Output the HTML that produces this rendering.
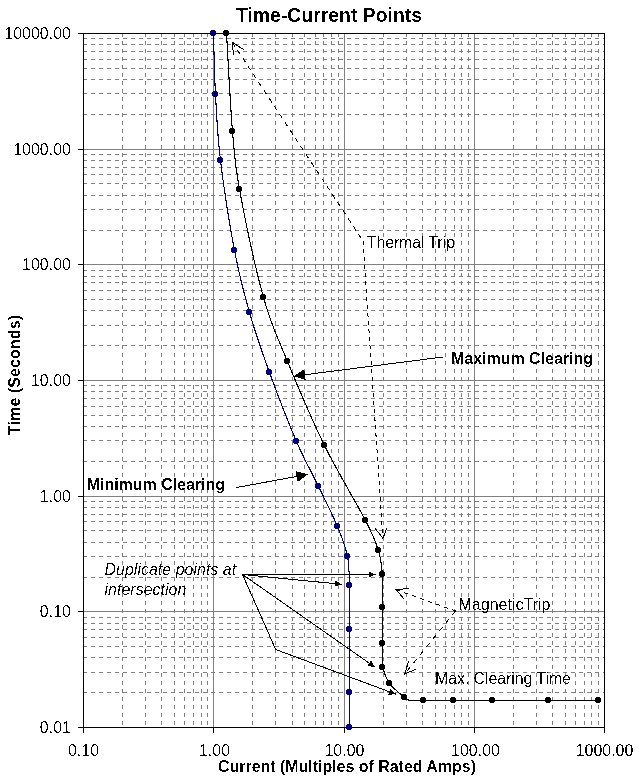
<!DOCTYPE html>
<html lang="en"><head><meta charset="utf-8"><title>Time-Current Points</title>
<style>html,body{margin:0;padding:0;background:#fff}svg{display:block}text{font-family:"Liberation Sans",Arial,sans-serif;fill:#000}</style></head><body>
<svg width="641" height="781" viewBox="0 0 641 781">
<rect width="641" height="781" fill="#fff"/>
<g shape-rendering="crispEdges" stroke="#808080" stroke-width="1" fill="none">
<path stroke-dasharray="4 4" d="M122.5 33V727M145.5 33V727M161.5 33V727M174.5 33V727M184.5 33V727M193.5 33V727M201.5 33V727M207.5 33V727M252.5 33V727M275.5 33V727M292.5 33V727M304.5 33V727M315.5 33V727M323.5 33V727M331.5 33V727M338.5 33V727M383.5 33V727M406.5 33V727M422.5 33V727M435.5 33V727M445.5 33V727M454.5 33V727M461.5 33V727M468.5 33V727M513.5 33V727M536.5 33V727M552.5 33V727M565.5 33V727M575.5 33V727M584.5 33V727M591.5 33V727M598.5 33V727"/>
<path stroke-dasharray="4 4" d="M83 114.5H604M83 93.5H604M83 79.5H604M83 68.5H604M83 59.5H604M83 51.5H604M83 44.5H604M83 38.5H604M83 230.5H604M83 209.5H604M83 195.5H604M83 183.5H604M83 174.5H604M83 167.5H604M83 160.5H604M83 154.5H604M83 345.5H604M83 325.5H604M83 310.5H604M83 299.5H604M83 290.5H604M83 282.5H604M83 276.5H604M83 270.5H604M83 461.5H604M83 440.5H604M83 426.5H604M83 415.5H604M83 406.5H604M83 398.5H604M83 391.5H604M83 385.5H604M83 577.5H604M83 556.5H604M83 542.5H604M83 530.5H604M83 521.5H604M83 514.5H604M83 507.5H604M83 501.5H604M83 692.5H604M83 672.5H604M83 657.5H604M83 646.5H604M83 637.5H604M83 629.5H604M83 623.5H604M83 617.5H604"/>
<path d="M213.5 33V727M344.5 33V727M474.5 33V727M83 149.5H604M83 264.5H604M83 380.5H604M83 496.5H604M83 611.5H604"/>
</g>
<path shape-rendering="crispEdges" stroke="#000" stroke-width="1" fill="none" d="M83.5 33.5H604.5V727.5H83.5ZM78 33.5H84M78 149.5H84M78 264.5H84M78 380.5H84M78 496.5H84M78 611.5H84M78 727.5H84M83.5 727V733M213.5 727V733M344.5 727V733M474.5 727V733M604.5 727V733"/>
<g shape-rendering="crispEdges"><path d="M213.5 33.5C213.83 43.67 214.33 73.33 215.5 94.5C216.67 115.67 217.33 134.50 220.5 160.5C223.67 186.50 229.67 225.17 234.5 250.5C239.33 275.83 243.67 292.17 249.5 312.5C255.33 332.83 261.67 351.00 269.5 372.5C277.33 394.00 288.33 422.50 296.5 441.5C304.67 460.50 311.67 472.33 318.5 486.5C325.33 500.67 332.67 514.83 337.5 526.5C342.33 538.17 345.50 546.67 347.5 556.5C349.50 566.33 349.17 580.67 349.5 585.5C349.50 592.83 349.50 611.67 349.5 629.5C349.50 647.33 349.50 676.17 349.5 692.5C349.50 708.83 349.50 721.67 349.5 727.5" fill="none" stroke="#000080" stroke-width="1.1"/><circle cx="213" cy="33" r="3" fill="#000080"/><circle cx="215" cy="94" r="3" fill="#000080"/><circle cx="220" cy="160" r="3" fill="#000080"/><circle cx="234" cy="250" r="3" fill="#000080"/><circle cx="249" cy="312" r="3" fill="#000080"/><circle cx="269" cy="372" r="3" fill="#000080"/><circle cx="296" cy="441" r="3" fill="#000080"/><circle cx="318" cy="486" r="3" fill="#000080"/><circle cx="337" cy="526" r="3" fill="#000080"/><circle cx="347" cy="556" r="3" fill="#000080"/><circle cx="349" cy="585" r="3" fill="#000080"/><circle cx="349" cy="629" r="3" fill="#000080"/><circle cx="349" cy="692" r="3" fill="#000080"/><circle cx="349" cy="727" r="3" fill="#000080"/></g>
<g shape-rendering="crispEdges"><path d="M226.5 33.5C227.50 49.83 230.33 105.50 232.5 131.5C234.67 157.50 234.33 161.83 239.5 189.5C244.67 217.17 255.50 268.83 263.5 297.5C271.50 326.17 277.33 336.83 287.5 361.5C297.67 386.17 311.50 419.00 324.5 445.5C337.50 472.00 356.50 503.00 365.5 520.5C372.98 535.04 375.67 541.50 378.5 550.5C381.33 559.50 381.83 570.50 382.5 574.5C382.50 580.00 382.50 596.00 382.5 607.5C382.50 619.00 382.50 633.50 382.5 643.5C382.50 653.50 382.50 663.50 382.5 667.5C383.67 670.17 385.83 678.50 389.5 683.5C393.17 688.50 402.00 695.17 404.5 697.5C405.17 697.92 407.17 699.50 408.5 700.0C409.83 700.50 410.49 700.43 412.5 700.5C415.00 700.58 418.00 700.50 423.5 700.5C430.33 700.50 442.00 700.50 453.5 700.5C465.00 700.50 476.67 700.50 492.5 700.5C508.33 700.50 530.83 700.50 548.5 700.5C566.17 700.50 590.17 700.50 598.5 700.5" fill="none" stroke="#000" stroke-width="1.1"/><circle cx="226" cy="33" r="3" fill="#000"/><circle cx="232" cy="131" r="3" fill="#000"/><circle cx="239" cy="189" r="3" fill="#000"/><circle cx="263" cy="297" r="3" fill="#000"/><circle cx="287" cy="361" r="3" fill="#000"/><circle cx="324" cy="445" r="3" fill="#000"/><circle cx="365" cy="520" r="3" fill="#000"/><circle cx="378" cy="550" r="3" fill="#000"/><circle cx="382" cy="574" r="3" fill="#000"/><circle cx="382" cy="607" r="3" fill="#000"/><circle cx="382" cy="643" r="3" fill="#000"/><circle cx="382" cy="667" r="3" fill="#000"/><circle cx="389" cy="683" r="3" fill="#000"/><circle cx="404" cy="697" r="3" fill="#000"/><circle cx="423" cy="700" r="3" fill="#000"/><circle cx="453" cy="700" r="3" fill="#000"/><circle cx="492" cy="700" r="3" fill="#000"/><circle cx="548" cy="700" r="3" fill="#000"/><circle cx="598" cy="700" r="3" fill="#000"/></g>
<g shape-rendering="crispEdges"><path d="M443 357L293.6 376.2" fill="none" stroke="#000" stroke-width="1"/><path d="M293.6 376.2L304.3 369.3L305.7 380.2Z" fill="#000"/><path d="M236 487.6L308 474.4" fill="none" stroke="#000" stroke-width="1"/><path d="M308.0 474.4L297.7 481.9L295.7 471.1Z" fill="#000"/><path d="M242.5 574.5L375.6 574.5" fill="none" stroke="#000" stroke-width="1"/><path d="M375.6 574.5L368.6 577.7L368.6 571.3Z" fill="#000"/><path d="M242.5 574.5L341.8 584.3" fill="none" stroke="#000" stroke-width="1"/><path d="M341.8 584.3L334.5 586.8L335.1 580.4Z" fill="#000"/><path d="M242.5 574.5L375 667.2" fill="none" stroke="#000" stroke-width="1"/><path d="M375.0 667.2L367.4 665.8L371.1 660.6Z" fill="#000"/><path d="M242.5 574.5L275.7 649.5L396 694.2" fill="none" stroke="#000" stroke-width="1"/><path d="M396.0 694.2L388.3 694.8L390.6 688.8Z" fill="#000"/><path d="M232.3 42.3L363 241" fill="none" stroke="#000" stroke-width="1" stroke-dasharray="4.79 4.79"/><path d="M363 241L382.9 538.3" fill="none" stroke="#000" stroke-width="1" stroke-dasharray="4.01 4.01"/><path d="M244 49.8L232.3 42.3L233.5 54.6" fill="none" stroke="#000" stroke-width="1"/><path d="M375.2 528.4L382.9 538.3L386.8 528.4" fill="none" stroke="#000" stroke-width="1"/><path d="M396.3 589.8L455.5 611" fill="none" stroke="#000" stroke-width="1" stroke-dasharray="4.25 4.25"/><path d="M455.5 611L404.7 673.9" fill="none" stroke="#000" stroke-width="1" stroke-dasharray="5.14 5.14"/><path d="M408.8 588.4L396.3 589.8L403.7 598.6" fill="none" stroke="#000" stroke-width="1"/><path d="M408.7 661.2L404.7 673.9L415.9 669.3" fill="none" stroke="#000" stroke-width="1"/></g>
<defs><filter id="crisp" x="0" y="0" width="100%" height="100%" filterUnits="userSpaceOnUse" color-interpolation-filters="sRGB"><feComponentTransfer><feFuncA type="discrete" tableValues="0 0 0 0 0 0 0 0 0 0 0 1 1 1 1 1 1 1 1 1"/></feComponentTransfer></filter></defs>
<g filter="url(#crisp)">
<text x="329" y="21.5" text-anchor="middle" font-size="19.4" font-weight="bold">Time-Current Points</text>
<text x="71" y="39" text-anchor="end" font-size="16">10000.00</text>
<text x="71" y="155" text-anchor="end" font-size="16">1000.00</text>
<text x="71" y="270" text-anchor="end" font-size="16">100.00</text>
<text x="71" y="386" text-anchor="end" font-size="16">10.00</text>
<text x="71" y="502" text-anchor="end" font-size="16">1.00</text>
<text x="71" y="617" text-anchor="end" font-size="16">0.10</text>
<text x="71" y="733" text-anchor="end" font-size="16">0.01</text>
<text x="83.5" y="756" text-anchor="middle" font-size="16">0.10</text>
<text x="214.5" y="756" text-anchor="middle" font-size="16">1.00</text>
<text x="344.5" y="756" text-anchor="middle" font-size="16">10.00</text>
<text x="475.5" y="756" text-anchor="middle" font-size="16">100.00</text>
<text x="604.5" y="756" text-anchor="middle" font-size="16">1000.00</text>
<text x="218" y="772" font-size="16" font-weight="bold" textLength="258" lengthAdjust="spacing">Current (Multiples of Rated Amps)</text>
<text transform="translate(20 435) rotate(-90)" font-size="16" font-weight="bold" textLength="120" lengthAdjust="spacing">Time (Seconds)</text>
<text x="366.8" y="248" font-size="16" textLength="88" lengthAdjust="spacing">Thermal Trip</text>
<text x="451" y="363.8" font-size="16" font-weight="bold" textLength="142" lengthAdjust="spacing">Maximum Clearing</text>
<text x="86.7" y="489.8" font-size="16" font-weight="bold" textLength="138.3" lengthAdjust="spacing">Minimum Clearing</text>
<text x="104.5" y="574.8" font-size="16" font-style="italic">Duplicate points at</text>
<text x="104.5" y="594.8" font-size="16" font-style="italic">intersection</text>
<text x="458.5" y="610.2" font-size="16" textLength="92" lengthAdjust="spacing">MagneticTrip</text>
<text x="435" y="683.8" font-size="16" textLength="136" lengthAdjust="spacing">Max. Clearing Time</text>
</g>
</svg></body></html>
